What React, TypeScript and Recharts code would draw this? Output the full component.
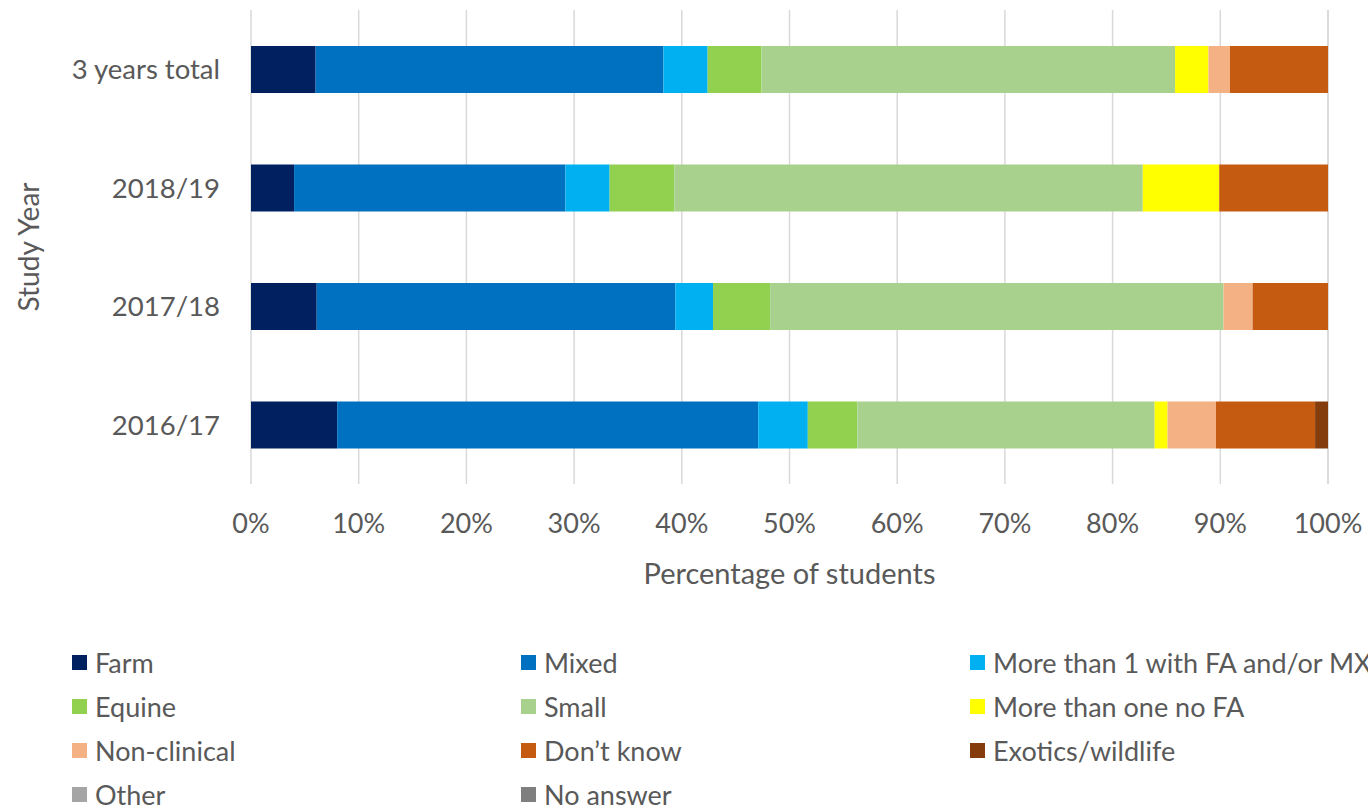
import { BarChart, Bar, XAxis, YAxis, CartesianGrid } from "recharts";

// Study years, top to bottom
const years = ["3 years total", "2018/19", "2017/18", "2016/17"];

// Percentage of students per placement type, same order as years
const farm = [6.0, 4.0, 6.1, 8.0];
const mixed = [32.3, 25.2, 33.3, 39.1];
const moreWithFA = [4.1, 4.1, 3.5, 4.6];
const equine = [5.0, 6.0, 5.3, 4.6];
const small = [38.4, 43.5, 42.1, 27.6];
const moreNoFA = [3.1, 7.1, 0, 1.2];
const nonClinical = [2.0, 0, 2.7, 4.5];
const dontKnow = [9.1, 10.1, 7.0, 9.2];
const exotics = [0, 0, 0, 1.2];
const other = [0, 0, 0, 0];
const noAnswer = [0, 0, 0, 0];

const xTicks = [0, 10, 20, 30, 40, 50, 60, 70, 80, 90, 100];

const series = [
  { key: "farm", name: "Farm", color: "#002060", values: farm },
  { key: "mixed", name: "Mixed", color: "#0070C0", values: mixed },
  { key: "moreWithFA", name: "More than 1 with FA and/or MX", color: "#00B0F0", values: moreWithFA },
  { key: "equine", name: "Equine", color: "#92D050", values: equine },
  { key: "small", name: "Small", color: "#A9D18E", values: small },
  { key: "moreNoFA", name: "More than one no FA", color: "#FFFF00", values: moreNoFA },
  { key: "nonClinical", name: "Non-clinical", color: "#F4B183", values: nonClinical },
  { key: "dontKnow", name: "Don\u2019t know", color: "#C55A11", values: dontKnow },
  { key: "exotics", name: "Exotics/wildlife", color: "#843C0C", values: exotics },
  { key: "other", name: "Other", color: "#A5A5A5", values: other },
  { key: "noAnswer", name: "No answer", color: "#7F7F7F", values: noAnswer },
];

const data = years.map((year, i) => {
  const row: Record<string, string | number> = { year };
  series.forEach((s) => {
    row[s.key] = s.values[i];
  });
  return row;
});

const FONT = "Lato, 'Open Sans', sans-serif";
const TEXT = "#595959";

export default function App() {
  return (
    <div style={{ position: "absolute", left: 0, top: 0, width: 1368, height: 806, background: "#fff", fontFamily: FONT }}>
      <BarChart
        width={1368}
        height={620}
        data={data}
        layout="vertical"
        margin={{ top: 10, right: 40, left: 0, bottom: 36 }}
      >
        <CartesianGrid horizontal={false} stroke="#D9D9D9" strokeWidth={1.5} />
        <XAxis
          type="number"
          domain={[0, 100]}
          ticks={xTicks}
          tickFormatter={(v) => `${v}%`}
          axisLine={false}
          tickLine={false}
          tickMargin={24}
          height={100}
          tick={{ fontSize: 27, fill: TEXT, fontFamily: FONT }}
          label={{
            content: ({ viewBox }: any) => (
              <text
                x={viewBox.x + viewBox.width / 2}
                y={viewBox.y + 88}
                textAnchor="middle"
                dominantBaseline="central"
                fontSize={29}
                fill={TEXT}
                fontFamily={FONT}
              >
                Percentage of students
              </text>
            ),
          }}
        />
        <YAxis
          type="category"
          dataKey="year"
          width={251}
          axisLine={false}
          tickLine={false}
          tickMargin={25}
          tick={{ fontSize: 27.5, fill: TEXT, fontFamily: FONT }}
          label={{
            content: ({ viewBox }: any) => {
              const cx = viewBox.x + 28;
              const cy = viewBox.y + viewBox.height / 2;
              return (
                <text
                  x={cx}
                  y={cy}
                  transform={`rotate(-90 ${cx} ${cy})`}
                  textAnchor="middle"
                  dominantBaseline="central"
                  fontSize={28}
                  fill={TEXT}
                  fontFamily={FONT}
                >
                  Study Year
                </text>
              );
            },
          }}
        />
        {series.map((s) => (
          <Bar
            key={s.key}
            dataKey={s.key}
            name={s.name}
            stackId="a"
            fill={s.color}
            barSize={47}
            isAnimationActive={false}
          />
        ))}
      </BarChart>

      {/* Legend, 3 columns */}
      <div
        style={{
          position: "absolute",
          left: 72,
          top: 640,
          display: "grid",
          gridTemplateColumns: "449px 449px 449px",
          rowGap: 0,
        }}
      >
        {series.map((s) => (
          <div key={s.key} style={{ display: "flex", alignItems: "center", height: 44, whiteSpace: "nowrap" }}>
            <span style={{ display: "inline-block", width: 15, height: 15, background: s.color, marginRight: 8 }} />
            <span style={{ fontSize: 27, color: TEXT }}>{s.name}</span>
          </div>
        ))}
      </div>
    </div>
  );
}
